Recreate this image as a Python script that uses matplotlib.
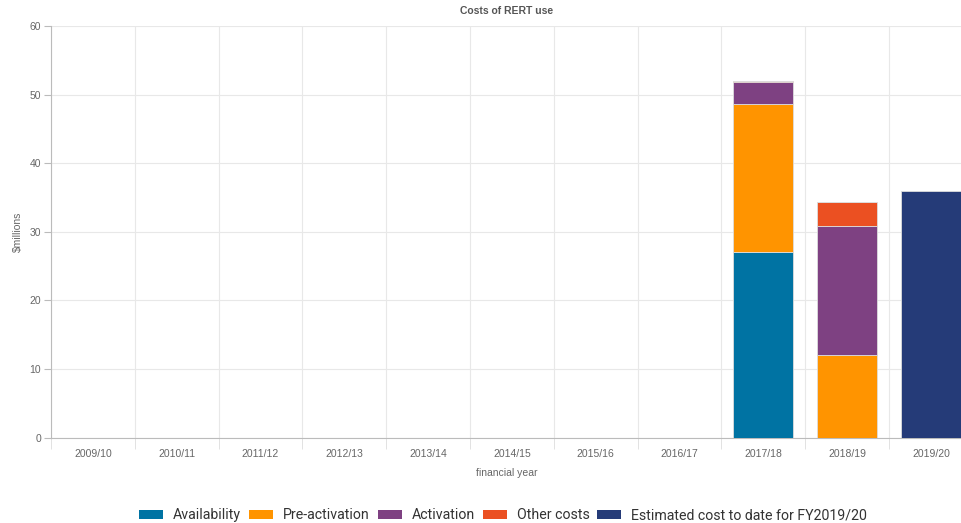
import matplotlib
matplotlib.use("Agg")
import matplotlib.pyplot as plt
import numpy as np
from matplotlib.patches import Patch

years = ["2009/10", "2010/11", "2011/12", "2012/13", "2013/14", "2014/15",
         "2015/16", "2016/17", "2017/18", "2018/19", "2019/20"]
availability = [0, 0, 0, 0, 0, 0, 0, 0, 27.0, 0, 0]
pre_activation = [0, 0, 0, 0, 0, 0, 0, 0, 21.6, 12.0, 0]
activation = [0, 0, 0, 0, 0, 0, 0, 0, 3.2, 18.9, 0]
other_costs = [0, 0, 0, 0, 0, 0, 0, 0, 0.2, 3.5, 0]
estimated = [0, 0, 0, 0, 0, 0, 0, 0, 0, 0, 36.0]

series = [
    ("Availability", availability, "#0073a3"),
    ("Pre-activation", pre_activation, "#ff9400"),
    ("Activation", activation, "#7e4182"),
    ("Other costs", other_costs, "#eb5022"),
    ("Estimated cost to date for FY2019/20", estimated, "#253b78"),
]

plt.rcParams['font.family'] = ['Liberation Sans', 'DejaVu Sans']
fig = plt.figure(figsize=(9.62, 5.23), dpi=100)
ax = fig.add_axes([51/962, 1 - 437.5/523, (962-51)/962, (437.5-26)/523])

x = np.arange(len(years))
bottom = np.zeros(len(years))
for name, vals, col in series:
    v = np.array(vals, dtype=float)
    ax.bar(x, v, 0.72, bottom=bottom, color=col, edgecolor="#dddddd", linewidth=0.6, zorder=3)
    bottom += v

ax.set_yticks([0, 10, 20, 30, 40, 50, 60])
ax.set_xticks(x)
ax.set_xticklabels(years)
ax.set_xticks(np.arange(len(years) + 1) - 0.5, minor=True)
ax.set_ylim(0, 60)
ax.set_xlim(-0.5, -0.5 + 911/83.8)
ax.tick_params(axis='x', which='major', length=0, pad=8, labelsize=7.5, labelcolor="#666666")
ax.tick_params(axis='x', which='minor', length=8, color="#dddddd")
ax.tick_params(axis='y', length=5, color="#bbbbbb", labelsize=7.5, labelcolor="#666666", pad=2)
ax.grid(True, axis='y', color="#e8e8e8", linewidth=0.8, zorder=0)
ax.grid(True, axis='x', which='minor', color="#e8e8e8", linewidth=0.8, zorder=0)
for s in ["top", "right"]:
    ax.spines[s].set_visible(False)
ax.spines["left"].set_color("#bbbbbb")
ax.spines["bottom"].set_color("#bbbbbb")

ax.set_title("Costs of RERT use", fontsize=7.5, fontweight="bold", color="#555555", pad=9)
ax.set_xlabel("financial year", fontsize=7.5, color="#666666", labelpad=7)
ax.set_ylabel("$millions", fontsize=7.5, color="#666666", labelpad=5)

handles = [Patch(facecolor=c, label=n) for n, _, c in series]
fig.legend(handles=handles, loc="center", bbox_to_anchor=(0.523, 1 - 515/523), ncol=5,
           frameon=False, handlelength=1.7, handleheight=0.6,
           handletextpad=0.7, columnspacing=0.55, labelcolor="#333333",
           prop={'family': ['Roboto', 'DejaVu Sans'], 'size': 10.2})

fig.savefig("out.png", dpi=100)
